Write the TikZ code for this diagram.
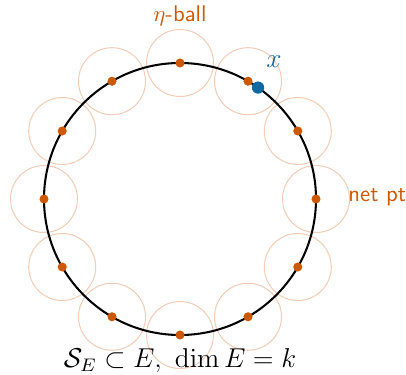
\documentclass[tikz,border=0pt]{standalone}
\usepackage{amsmath}
\usetikzlibrary{calc}
\definecolor{netorange}{RGB}{204,88,0}
\definecolor{ballorange}{RGB}{242,204,182}
\definecolor{ptblue}{RGB}{16,104,160}
\tikzset{
  ball/.style={draw=ballorange, line width=0.45pt},
  netdot/.style={circle, fill=netorange, inner sep=0pt, minimum size=4pt},
  bluedot/.style={circle, fill=ptblue, inner sep=0pt, minimum size=5.4pt},
  lbl/.style={font=\sffamily, text=netorange},
}
\begin{document}
\begin{tikzpicture}[x=0.44pt,y=-0.44pt]
\useasboundingbox (0,0) rectangle (406,375);
\coordinate (c) at (180,199);
\foreach \a in {0,30,...,330} {
  \draw[ball] ($(c)+(\a:136 and -136)$) circle[radius=33.5];
}
\draw[black, line width=0.9pt] (c) circle[radius=136];
\foreach \a [count=\i] in {0,30,...,330} {
  \node[netdot] (n\i) at ($(c)+(\a:136 and -136)$) {};
}
\node[bluedot] (xp) at ($(c)+(55:136 and -136)$) {};
\node[text=ptblue, font=\large] (xl) at (274,62) {$x$};
\node[lbl] (bl) at (180,16) {$\eta$-ball};
\node[lbl, anchor=west, inner sep=0pt] (np) at (348,197) {net pt};
\node[font=\fontsize{11.6}{14}\selectfont] (se) at (180,361) {$\mathcal{S}_E\subset E,\ \dim E=k$};
\end{tikzpicture}
\end{document}
